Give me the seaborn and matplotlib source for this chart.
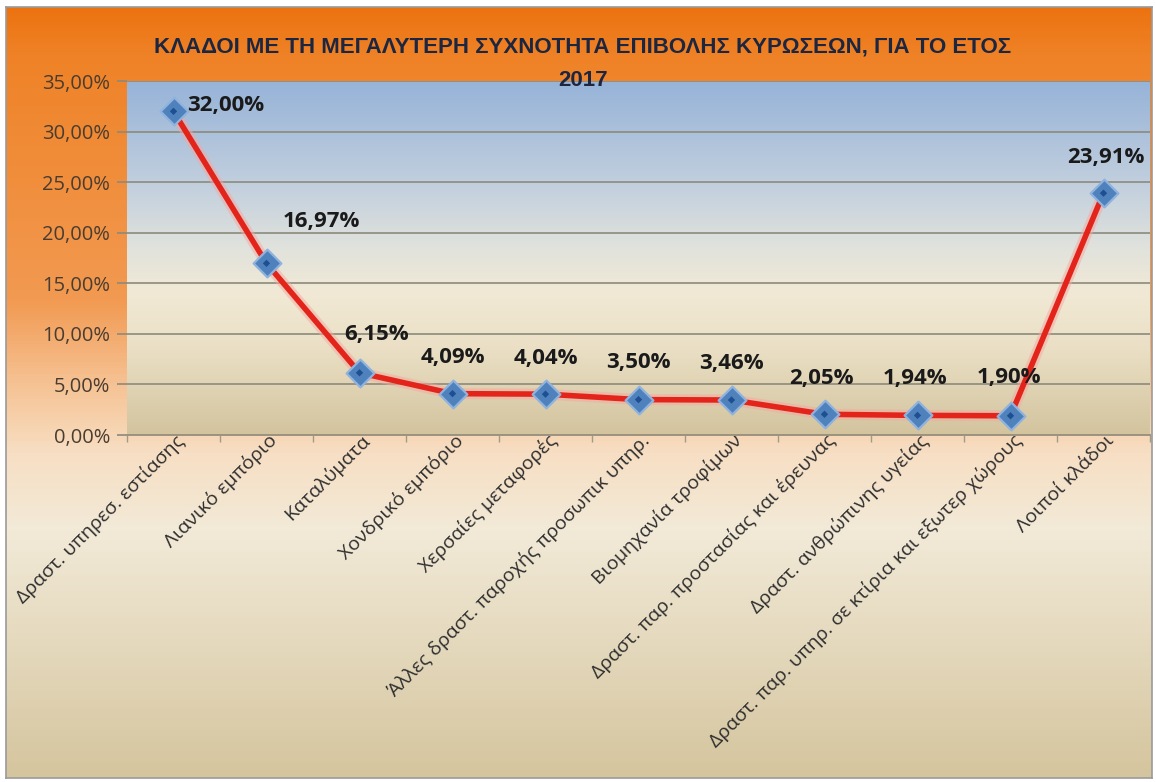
import numpy as np
import matplotlib
matplotlib.use("Agg")
import matplotlib.pyplot as plt
import matplotlib.patheffects as pe
from matplotlib.colors import LinearSegmentedColormap
from matplotlib.ticker import FuncFormatter
import matplotlib.transforms as mtransforms
import seaborn as sns

# ------------- #
# Chart data    #
# ------------- #
title_line1 = "ΚΛΑΔΟΙ ΜΕ ΤΗ ΜΕΓΑΛΥΤΕΡΗ ΣΥΧΝΟΤΗΤΑ ΕΠΙΒΟΛΗΣ ΚΥΡΩΣΕΩΝ, ΓΙΑ ΤΟ ΕΤΟΣ"
title_line2 = "2017"

sectors = [
    "Δραστ. υπηρεσ. εστίασης",
    "Λιανικό εμπόριο",
    "Καταλύματα",
    "Χονδρικό εμπόριο",
    "Χερσαίες μεταφορές",
    "Άλλες δραστ. παροχής προσωπικ υπηρ.",
    "Βιομηχανία τροφίμων",
    "Δραστ. παρ. προστασίας και έρευνας",
    "Δραστ. ανθρώπινης υγείας",
    "Δραστ. παρ. υπηρ. σε κτίρια και εξωτερ χώρους",
    "Λοιποί κλάδοι",
]
share_pct = [32.00, 16.97, 6.15, 4.09, 4.04, 3.50, 3.46, 2.05, 1.94, 1.90, 23.91]
y_ticks = [0, 5, 10, 15, 20, 25, 30, 35]

# label offsets in pixels (dx, dy) relative to each point
label_offsets = [(14, 6), (55, 42), (17, 38), (0, 36), (0, 36), (0, 37),
                 (0, 37), (-3, 36), (-2, 37), (-2, 38), (2, 36)]

# ------------- #
# Figure        #
# ------------- #
fig = plt.figure(figsize=(11.56, 7.82), dpi=100, facecolor="white")

# outer chart background (orange -> peach -> cream -> tan)
bg_cmap = LinearSegmentedColormap.from_list("bg", [
    (0.00, "#ec7210"),
    (0.06, "#ef8226"),
    (0.38, "#f29a52"),
    (0.50, "#f6c69a"),
    (0.58, "#f7dfc4"),
    (0.68, "#f2ead8"),
    (1.00, "#d5c59e"),
])
bg = fig.add_axes([6 / 1156, 4 / 782, 1146 / 1156, 771 / 782], zorder=0)
bg.imshow(np.linspace(0, 1, 256).reshape(-1, 1), cmap=bg_cmap,
          aspect="auto", extent=[0, 1, 0, 1])
bg.set_xticks([])
bg.set_yticks([])
for s in bg.spines.values():
    s.set_color("#9a9a9a")
    s.set_linewidth(1.2)

# plot area
ax = fig.add_axes([127 / 1156, 1 - 435 / 782, 1023 / 1156, 354 / 782], zorder=1)
plot_cmap = LinearSegmentedColormap.from_list("pa", [
    (0.00, "#96b3d8"),
    (0.30, "#c3d0de"),
    (0.48, "#e2e3dc"),
    (0.60, "#f1e9d5"),
    (0.75, "#ebe0c6"),
    (1.00, "#d3c49e"),
])
ax.imshow(np.linspace(0, 1, 256).reshape(-1, 1), cmap=plot_cmap, aspect="auto",
          extent=[0, 1, 0, 1], transform=ax.transAxes, zorder=0)

# red line with a soft glow
sns.lineplot(
    x=sectors, y=share_pct, ax=ax, sort=False,
    color="#e3241b", linewidth=4, zorder=3,
    path_effects=[pe.withStroke(linewidth=8, foreground="#f5a8a0", alpha=0.5)],
)
# diamond markers + dark centre
sns.scatterplot(x=sectors, y=share_pct, ax=ax, marker="D", s=200,
                color="#4f81bd", edgecolor="#8fb3dd", linewidth=1.6, zorder=4)
sns.scatterplot(x=sectors, y=share_pct, ax=ax, marker="D", s=14,
                color="#1d4f91", edgecolor="none", zorder=5)

ax.set_xlim(-0.5, len(sectors) - 0.5)
ax.set_ylim(0, 35)
ax.set_yticks(y_ticks)
ax.yaxis.set_major_formatter(FuncFormatter(lambda v, _: f"{v:.2f}%".replace(".", ",")))
ax.grid(axis="y", color="#8c8a7c", linewidth=1.2, zorder=1)
ax.set_axisbelow(True)
ax.set_xlabel("")
ax.set_ylabel("")

for s in ["top", "right", "left"]:
    ax.spines[s].set_visible(False)
ax.spines["bottom"].set_color("#9c9380")
ax.spines["bottom"].set_linewidth(1.4)

ax.tick_params(axis="y", length=7, width=1.2, color="#8c8a7c", pad=5,
               labelsize=14.5, labelcolor="#4a3c30")
ax.tick_params(axis="x", which="major", length=0, pad=2)
ax.set_xticks(np.arange(-0.5, len(sectors), 1), minor=True)
ax.tick_params(axis="x", which="minor", length=5, width=1, color="#a39a86")
for lbl in ax.get_yticklabels():
    lbl.set_fontfamily(["Open Sans", "DejaVu Sans"])

shift = mtransforms.ScaledTranslation(8 / 100, 0, fig.dpi_scale_trans)
for lbl in ax.get_xticklabels():
    lbl.set_rotation(45)
    lbl.set_ha("right")
    lbl.set_va("center")
    lbl.set_rotation_mode("anchor")
    lbl.set_fontsize(14)
    lbl.set_color("#2e2e2e")
    lbl.set_fontfamily(["Open Sans", "DejaVu Sans"])
    lbl.set_transform(lbl.get_transform() + shift)

# value labels
for i, (v, (dx, dy)) in enumerate(zip(share_pct, label_offsets)):
    ax.annotate(
        f"{v:.2f}%".replace(".", ","), xy=(i, v), xytext=(dx, dy),
        textcoords="offset pixels", ha="left" if i == 0 else "center",
        va="center", fontsize=16, fontweight="bold", color="#1a1a1a",
        family=["Open Sans", "DejaVu Sans"], zorder=6,
    )

# title (two lines, as in the original)
fig.text(583 / 1156, 1 - 47 / 782, title_line1, ha="center", va="center",
         fontsize=16, fontweight="bold", color="#1c2640",
         family=["Liberation Sans", "DejaVu Sans"], zorder=6)
fig.text(583 / 1156, 1 - 80 / 782, title_line2, ha="center", va="center",
         fontsize=16, fontweight="bold", color="#1c2640",
         family=["Liberation Sans", "DejaVu Sans"], zorder=6)

plt.savefig("out.png", dpi=100, facecolor="white")
